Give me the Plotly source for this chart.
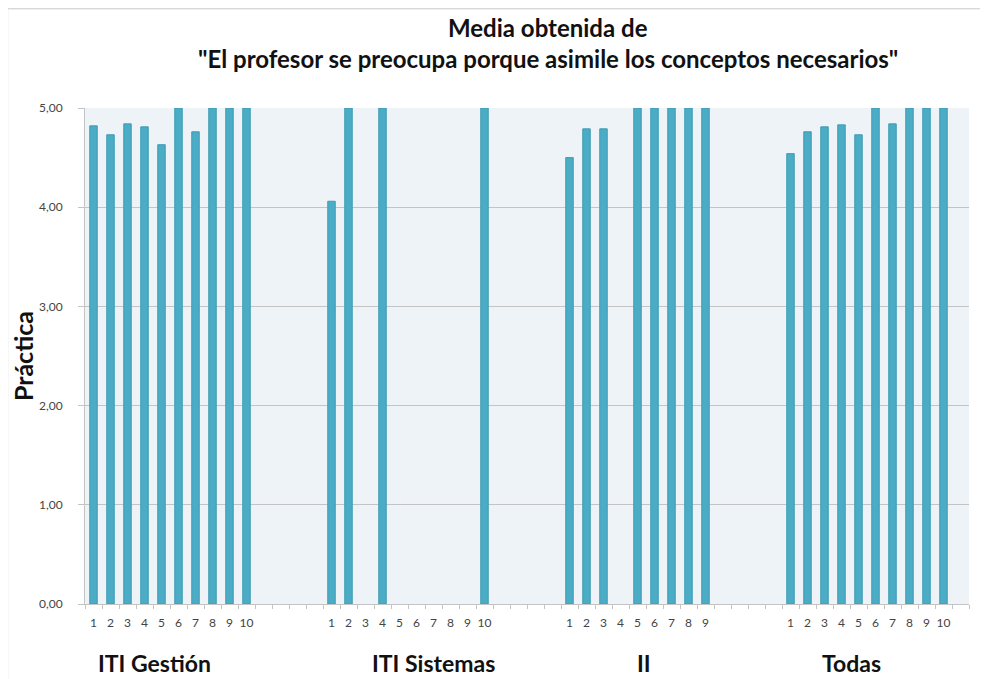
import plotly.graph_objects as go

# ---- data ----
group_names = ["ITI Gestión", "ITI Sistemas", "II", "Todas"]
iti_gestion = [4.82, 4.73, 4.84, 4.81, 4.63, 5.00, 4.76, 5.00, 5.00, 5.00]
iti_sistemas = [4.06, 5.00, None, 5.00, None, None, None, None, None, 5.00]
ii = [4.50, 4.79, 4.79, None, 5.00, 5.00, 5.00, 5.00, 5.00]
todas = [4.54, 4.76, 4.81, 4.83, 4.73, 5.00, 4.84, 5.00, 5.00, 5.00]
series = [iti_gestion, iti_sistemas, ii, todas]
gap_slots = 4
y_ticks = [0, 1, 2, 3, 4, 5]
title_line1 = "Media obtenida de"
title_line2 = "\"El profesor se preocupa porque asimile los conceptos necesarios\""
y_title = "Práctica"

# build category positions
xs, ys, labels = [], [], []
group_first = []
pos = 0
for gi, vals in enumerate(series):
    group_first.append(pos)
    for i, v in enumerate(vals):
        xs.append(pos)
        ys.append(v)
        labels.append(str(i + 1))
        pos += 1
    if gi < len(series) - 1:
        pos += gap_slots
n_slots = pos + 1  # one trailing empty slot

bar_color = "#4BACC6"
grid = "#C4C4C4"
font_fam = "Lato, 'Open Sans', sans-serif"

fig = go.Figure()
fig.add_trace(go.Bar(
    x=xs, y=ys,
    marker=dict(color=bar_color, line=dict(color="#3F9BB5", width=1)),
    hoverinfo="y",
))

# title lines
fig.add_annotation(x=0.524, xref="paper", y=1.163, yref="paper",
                   text="<b>%s</b>" % title_line1, showarrow=False,
                   font=dict(family=font_fam, size=24, color="#111111"),
                   xanchor="center", yanchor="middle")
fig.add_annotation(x=0.524, xref="paper", y=1.1, yref="paper",
                   text="<b>%s</b>" % title_line2, showarrow=False,
                   font=dict(family=font_fam, size=24, color="#111111"),
                   xanchor="center", yanchor="middle")

# group labels (positions relative to each group's first slot)
label_offsets = [3.6, 6.0, 4.4, 3.6]
for name, first, off in zip(group_names, group_first, label_offsets):
    fig.add_annotation(
        x=first + off, xref="x", y=-0.119, yref="paper",
        text="<b>%s</b>" % name, showarrow=False,
        font=dict(family=font_fam, size=23, color="#111111"),
        xanchor="center", yanchor="middle",
    )

# outer chart frame
fig.add_shape(type="rect", xref="paper", yref="paper",
              x0=-0.0875, x1=1.2, y0=-0.3, y1=1.2,
              line=dict(color="#C8C8C8", width=1), fillcolor="rgba(0,0,0,0)",
              layer="below")

fig.update_layout(
    width=980, height=671,
    margin=dict(l=77, r=19, t=100, b=75),
    paper_bgcolor="white",
    plot_bgcolor="#EEF3F8",
    separators=",.",
    showlegend=False,
    bargap=0.56,
    font=dict(family=font_fam),
)

fig.update_yaxes(
    range=[0, 5], tickvals=y_ticks, tickformat=".2f",
    showgrid=True, gridcolor=grid, gridwidth=1,
    showline=True, linecolor=grid, linewidth=1,
    ticks="outside", ticklen=6, tickcolor=grid,
    ticklabelstandoff=13,
    tickfont=dict(family=font_fam, size=12, color="#444444"),
    zeroline=False,
    title=dict(text="<b>%s</b>" % y_title, font=dict(family=font_fam, size=25, color="#111111"), standoff=2),
)

fig.update_xaxes(
    range=[-0.5, n_slots - 0.5],
    tickmode="array", tickvals=xs, ticktext=labels,
    ticks="", showgrid=False, zeroline=False,
    showline=True, linecolor=grid, linewidth=1,
    ticklabelstandoff=8,
    tickfont=dict(family=font_fam, size=12, color="#444444"),
    minor=dict(tickvals=[i - 0.5 for i in range(n_slots + 1)], ticks="outside",
               ticklen=4, tickcolor=grid, showgrid=False),
)

fig.write_html("out.html")
